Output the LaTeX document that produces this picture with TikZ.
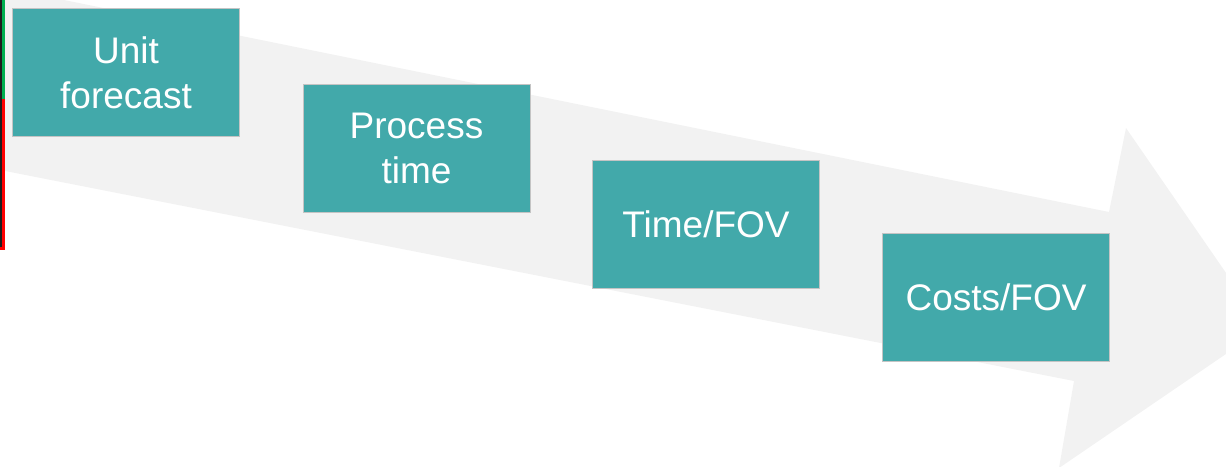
\documentclass[tikz,border=0pt]{standalone}
\usepackage{fontspec}
\setmainfont{Liberation Sans}
\definecolor{steptealfill}{HTML}{42A9AA}
\definecolor{stepedge}{HTML}{C4C4C4}
\definecolor{flowgray}{HTML}{F2F2F2}
\definecolor{markgreen}{HTML}{00B050}
\definecolor{markred}{HTML}{FF0000}
\definecolor{markdark}{HTML}{1E1E1E}
\tikzset{
  stepbox/.style={rectangle, fill=steptealfill, draw=stepedge, line width=1pt,
    minimum width=227pt, minimum height=128pt, inner sep=0pt,
    text=white, align=center, font=\fontsize{37}{45}\selectfont}
}
\begin{document}
\begin{tikzpicture}[x=1pt,y=-1pt]
\useasboundingbox (0,0) rectangle (1226,466);
% large pale arrow running down to the right
\begin{scope}
  \clip (0,0) rectangle (1226,466);
  \fill[flowgray] (-5,-14) -- (1109,212) -- (1126,128) -- (1264,328)
    -- (1059,468) -- (1074,381) -- (-5,169) -- cycle;
\end{scope}
% marker bar on the left edge
\fill[markgreen] (0,0) rectangle (5,99);
\fill[markred] (0,99) rectangle (5,250);
\fill[markdark] (0,0) rectangle (2,247);
% process steps
\node[stepbox] (unit) at (126,72.5) {Unit\\forecast};
\node[stepbox] (proc) at (416.5,148) {Process\\time};
\node[stepbox] (time) at (706,224) {Time/FOV};
\node[stepbox] (cost) at (996,297.5) {Costs/FOV};
\end{tikzpicture}
\end{document}
